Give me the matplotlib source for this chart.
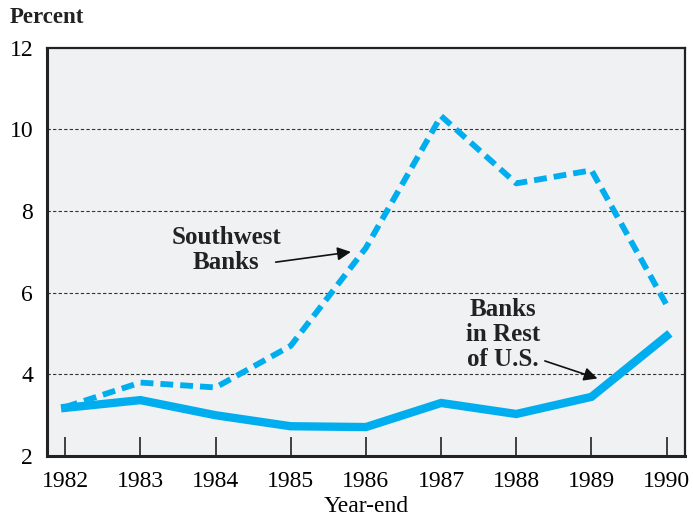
import matplotlib
matplotlib.use("Agg")
import matplotlib.pyplot as plt

years = [1982, 1983, 1984, 1985, 1986, 1987, 1988, 1989, 1990]
southwest = [3.2, 3.8, 3.68, 4.7, 7.1, 10.33, 8.68, 9.0, 5.7]
rest_us = [3.18, 3.37, 3.0, 2.73, 2.71, 3.3, 3.03, 3.45, 4.94]
yticks = [2, 4, 6, 8, 10, 12]

blue = "#00aeef"
plt.rcParams['font.family'] = ['Liberation Serif', 'DejaVu Serif']

fig = plt.figure(figsize=(6.93, 5.2), dpi=100)
ax = fig.add_axes([0.068, 0.123, 0.920, 0.785])
ax.set_facecolor("#f0f1f3")

for y in [4, 6, 8, 10]:
    ax.axhline(y, color="#333333", lw=0.8, ls=(0, (3, 2)), zorder=1)

ax.plot(years, southwest, color=blue, lw=4.2, ls=(0, (2.2, 1.2)), zorder=3,
        solid_capstyle='butt', dash_capstyle='butt')
ax.plot(years, rest_us, color=blue, lw=6, zorder=3, solid_joinstyle='miter')

ax.set_xlim(1981.76, 1990.24)
ax.set_ylim(2, 12)
ax.set_yticks(yticks)
ax.set_xticks(years)
ax.set_xticklabels([str(y) for y in years], fontsize=17)
ax.set_yticklabels([str(y) for y in yticks], fontsize=17)
ax.tick_params(axis='x', direction='in', length=14, width=1.2, color='#222222', pad=11)
ax.tick_params(axis='y', length=0, pad=10)
for s in ax.spines.values():
    s.set_linewidth(1.6)
    s.set_color('#222222')
ax.spines['bottom'].set_linewidth(2.2)
ax.spines['left'].set_linewidth(2.2)

ax.set_xlabel("Year-end", fontsize=17, labelpad=3)
fig.text(0.014, 0.967, "Percent", fontsize=16.5, fontweight='bold', va='center', ha='left', color='#222222')

ax.text(1984.14, 7.05, "Southwest\nBanks", fontsize=18, fontweight='bold', ha='center',
        va='center', color='#222222', linespacing=1.12)
ax.annotate("", xy=(1985.8, 7.0), xytext=(1984.8, 6.75),
            arrowprops=dict(arrowstyle='-|>', color='#111111', lw=1.2, mutation_scale=20,
                            shrinkA=0, shrinkB=0))
ax.text(1987.82, 4.97, "Banks\nin Rest\nof U.S.", fontsize=18, fontweight='bold', ha='center',
        va='center', color='#222222', linespacing=1.12)
ax.annotate("", xy=(1989.08, 3.9), xytext=(1988.38, 4.33),
            arrowprops=dict(arrowstyle='-|>', color='#111111', lw=1.2, mutation_scale=20,
                            shrinkA=0, shrinkB=0))

fig.savefig("out.png", dpi=100)
